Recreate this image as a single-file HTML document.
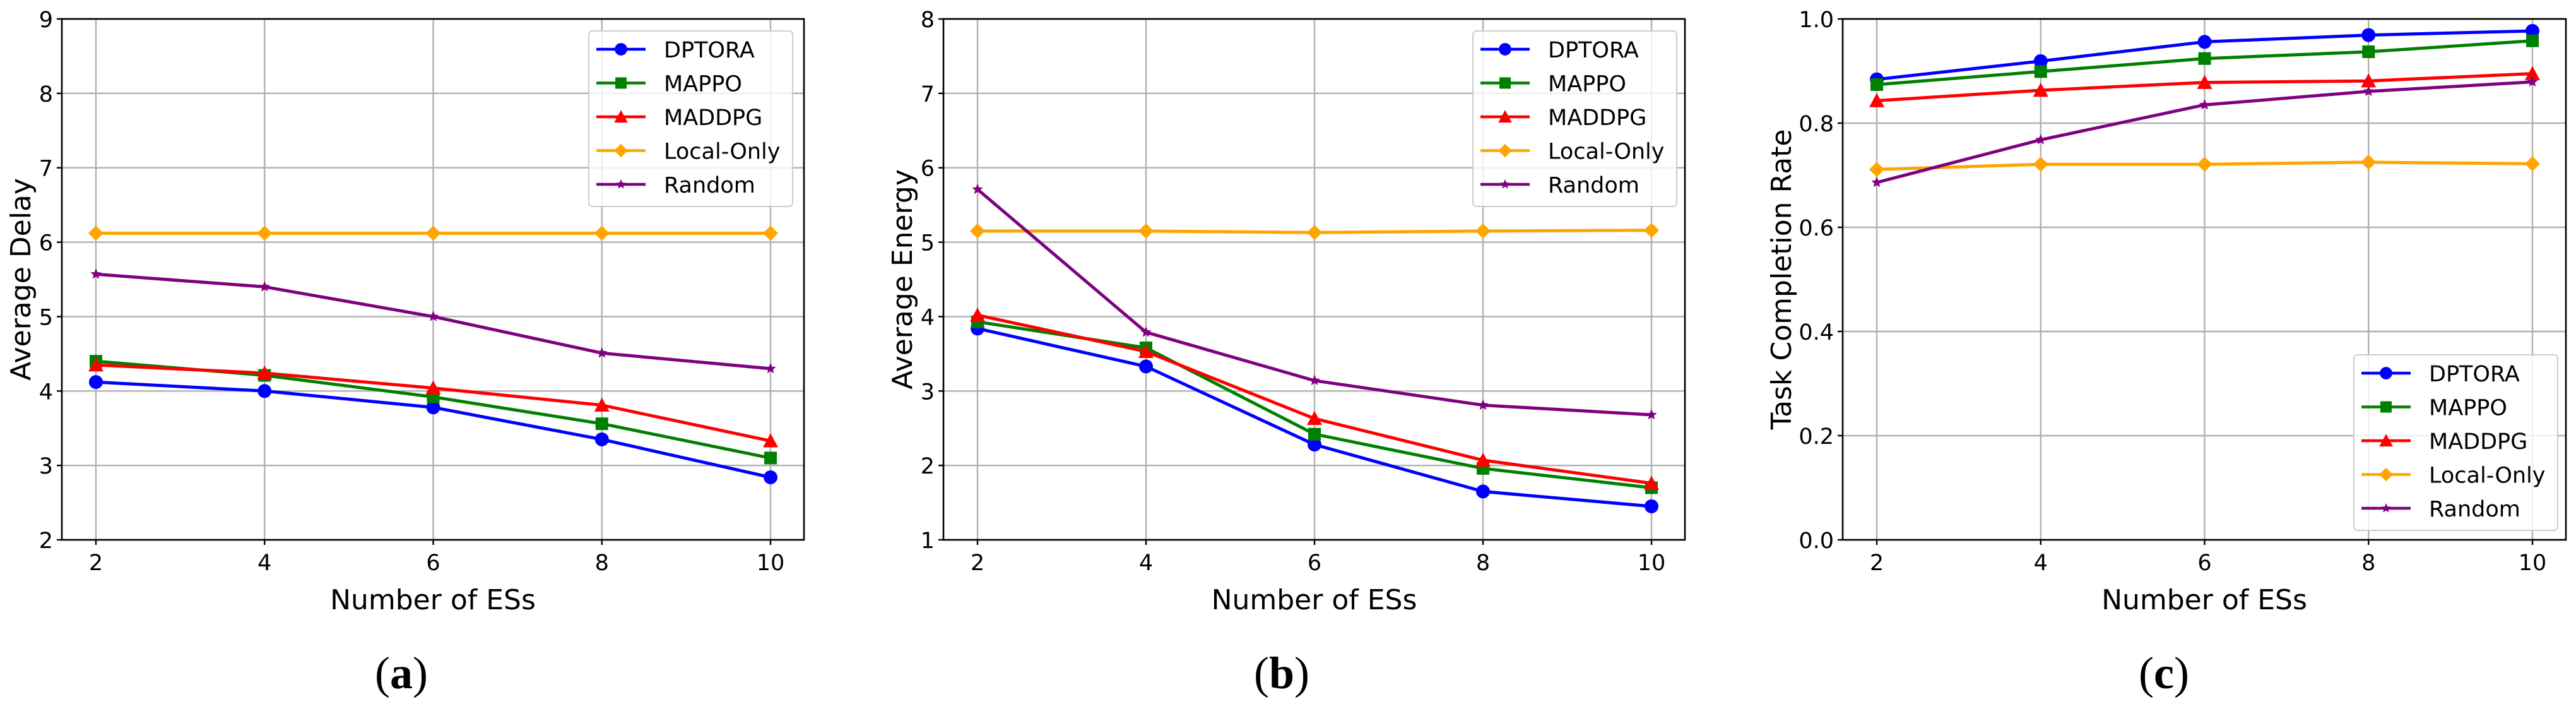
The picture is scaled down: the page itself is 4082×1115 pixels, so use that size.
<!DOCTYPE html>
<html><head><meta charset="utf-8"><style>
html,body{margin:0;padding:0;background:#fff;}
svg{display:block;font-family:"DejaVu Sans","Liberation Sans",sans-serif;}
</style></head><body>
<svg id="fig" width="4082" height="1115" viewBox="0 0 4082 1115" xmlns="http://www.w3.org/2000/svg"></svg>
<script>
const categories = [2, 4, 6, 8, 10];
const seriesNames = ["DPTORA","MAPPO","MADDPG","Local-Only","Random"];
// Panel (a) Average Delay
const delayDPTORA = [4.12, 4.00, 3.78, 3.35, 2.84];
const delayMAPPO = [4.40, 4.21, 3.92, 3.56, 3.10];
const delayMADDPG = [4.35, 4.24, 4.04, 3.81, 3.33];
const delayLocal = [6.12, 6.12, 6.12, 6.12, 6.12];
const delayRandom = [5.57, 5.40, 5.00, 4.51, 4.30];
const delayTicks = [2,3,4,5,6,7,8,9];
// Panel (b) Average Energy
const energyDPTORA = [3.84, 3.33, 2.28, 1.65, 1.45];
const energyMAPPO = [3.93, 3.58, 2.42, 1.96, 1.70];
const energyMADDPG = [4.02, 3.53, 2.63, 2.07, 1.76];
const energyLocal = [5.15, 5.15, 5.13, 5.15, 5.16];
const energyRandom = [5.71, 3.79, 3.14, 2.81, 2.68];
const energyTicks = [1,2,3,4,5,6,7,8];
// Panel (c) Task Completion Rate
const rateDPTORA = [0.884, 0.919, 0.956, 0.969, 0.977];
const rateMAPPO = [0.874, 0.899, 0.924, 0.937, 0.958];
const rateMADDPG = [0.843, 0.863, 0.878, 0.881, 0.895];
const rateLocal = [0.711, 0.721, 0.721, 0.725, 0.722];
const rateRandom = [0.686, 0.768, 0.835, 0.861, 0.879];
const rateTicks = [0.0,0.2,0.4,0.6,0.8,1.0];

const colors = ["#0000ff","#008000","#ff0000","#ffa500","#800080"];
const markers = ["circle","square","triangle","diamond","star"];
const NS = "http://www.w3.org/2000/svg";
const svg = document.getElementById("fig");
function mk(tag, attrs, parent){
  const e = document.createElementNS(NS, tag);
  for (const k in attrs) e.setAttribute(k, attrs[k]);
  (parent||svg).appendChild(e);
  return e;
}
function marker(type, cx, cy, color, g, s){
  s = s||1; let e;
  if(type==="circle"){ e = mk("circle",{cx:cx,cy:cy,r:11*s,fill:color},g); }
  else if(type==="square"){ const h=10*s; e = mk("rect",{x:cx-h,y:cy-h,width:2*h,height:2*h,fill:color},g); }
  else if(type==="triangle"){ const h=12*s; e = mk("polygon",{points:`${cx},${cy-h} ${cx+h},${cy+h*0.85} ${cx-h},${cy+h*0.85}`,fill:color},g); }
  else if(type==="diamond"){ const h=12*s; e = mk("polygon",{points:`${cx},${cy-h} ${cx+h},${cy} ${cx},${cy+h} ${cx-h},${cy}`,fill:color},g); }
  else { const R=9*s, r=4*s; let p=[]; for(let i=0;i<10;i++){const a=-Math.PI/2+i*Math.PI/5; const rr=i%2?r:R; p.push((cx+rr*Math.cos(a)).toFixed(1)+","+(cy+rr*Math.sin(a)).toFixed(1));} e = mk("polygon",{points:p.join(" "),fill:color},g); }
  return e;
}
function panel(cfg){
  const g = mk("g",{});
  
  
  const L=cfg.left, R=cfg.right, T=30, B=855;
  const x0=L+54, x1=R-53;
  const xs = v => x0 + (v-2)/(8)*(x1-x0);
  const ys = v => B - (v-cfg.ymin)/(cfg.ymax-cfg.ymin)*(B-T);
  categories.forEach(c=>{
    const l = mk("line",{x1:xs(c),x2:xs(c),y1:T,y2:B,stroke:"#b0b0b0","stroke-width":2.4},g);
    
    
    mk("line",{x1:xs(c),x2:xs(c),y1:B,y2:B+8,stroke:"#000","stroke-width":2.4},g);
    const t = mk("text",{x:xs(c),y:B+48,"font-size":35,"text-anchor":"middle",fill:"#000"},g);
    t.textContent = c;
    
    
  });
  cfg.ticks.forEach(v=>{
    const l = mk("line",{x1:L,x2:R,y1:ys(v),y2:ys(v),stroke:"#b0b0b0","stroke-width":2.4},g);
    
    
    mk("line",{x1:L-8,x2:L,y1:ys(v),y2:ys(v),stroke:"#000","stroke-width":2.4},g);
    const t = mk("text",{x:L-14,y:ys(v)+13,"font-size":35,"text-anchor":"end",fill:"#000"},g);
    t.textContent = cfg.fmt(v);
    
    
  });
  cfg.series.forEach((vals,i)=>{
    const sg = mk("g",{},g);
    
    
    const pts = vals.map((v,j)=>xs(categories[j]).toFixed(1)+","+ys(v).toFixed(1)).join(" ");
    const pl = mk("polyline",{points:pts,fill:"none",stroke:colors[i],"stroke-width":5,"stroke-linejoin":"round"},sg);
    
    
    vals.forEach((v,j)=>{
      const m = marker(markers[i], xs(categories[j]), ys(v), colors[i], sg);
      
      
    });
  });
  const fr = mk("rect",{x:L,y:T,width:R-L,height:B-T,fill:"none",stroke:"#000","stroke-width":2.6},g);
  
  
  const lg = mk("g",{},g);
  
  
  const lx=cfg.legX, ly=cfg.legY;
  mk("rect",{x:lx,y:ly,width:323,height:278,rx:6,fill:"#fff","fill-opacity":0.8,stroke:"#cccccc","stroke-width":2},lg);
  seriesNames.forEach((n,i)=>{
    const ey = ly+29+i*53.5;
    const eg = mk("g",{},lg);
    
    
    mk("line",{x1:lx+12,x2:lx+90,y1:ey,y2:ey,stroke:colors[i],"stroke-width":4.5},eg);
    marker(markers[i], lx+51, ey, colors[i], eg, 0.9);
    const t = mk("text",{x:lx+119,y:ey+13,"font-size":35,fill:"#000"},eg);
    t.textContent = n;
  });
  const xl = mk("text",{x:(L+R)/2,y:B+110,"font-size":44,"text-anchor":"middle",fill:"#000"},g);
  xl.textContent = "Number of ESs";
  
  
  const yl = mk("text",{x:0,y:0,"font-size":44,"text-anchor":"middle",fill:"#000",transform:`translate(${cfg.ylabX},${(T+B)/2}) rotate(-90)`},g);
  yl.textContent = cfg.ylabel;
  
  
  const cap = mk("text",{x:cfg.capX,y:1090,"font-size":72,"text-anchor":"middle",fill:"#000","font-family":"Liberation Serif, serif"},g);
  cap.innerHTML = '(<tspan font-weight="bold">'+cfg.cap+'</tspan>)';
  
  
}
panel({name:"chart-average-delay",left:98,right:1274,ymin:2,ymax:9,ticks:delayTicks,fmt:v=>String(v),
  series:[delayDPTORA,delayMAPPO,delayMADDPG,delayLocal,delayRandom],legX:933,legY:49,ylabX:48,ylabel:"Average Delay",capX:636,cap:"a"});
panel({name:"chart-average-energy",left:1495,right:2670,ymin:1,ymax:8,ticks:energyTicks,fmt:v=>String(v),
  series:[energyDPTORA,energyMAPPO,energyMADDPG,energyLocal,energyRandom],legX:2334,legY:49,ylabX:1445,ylabel:"Average Energy",capX:2031,cap:"b"});
panel({name:"chart-task-completion-rate",left:2920,right:4066,ymin:0,ymax:1,ticks:rateTicks,fmt:v=>v.toFixed(1),
  series:[rateDPTORA,rateMAPPO,rateMADDPG,rateLocal,rateRandom],legX:3730,legY:562,ylabX:2838,ylabel:"Task Completion Rate",capX:3429,cap:"c"});
</script>
</body></html>
